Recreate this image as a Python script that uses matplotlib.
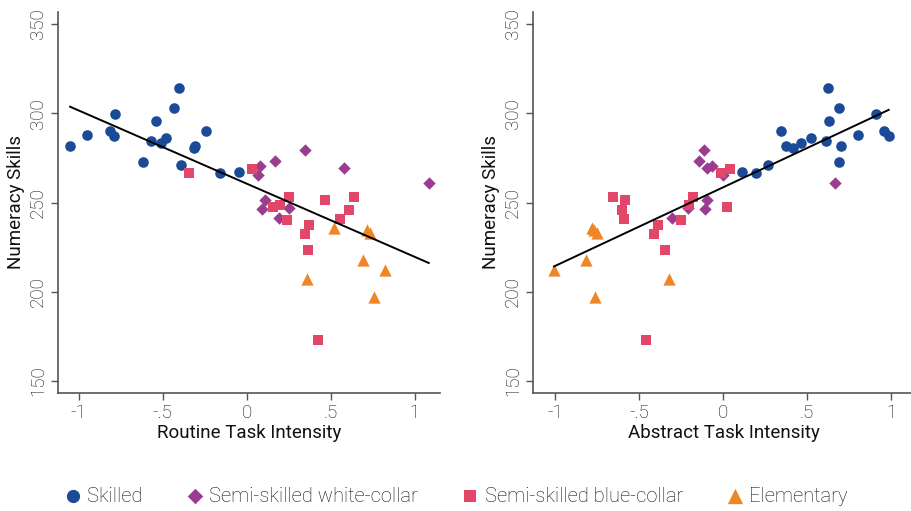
import numpy as np
import matplotlib
matplotlib.use("Agg")
import matplotlib.pyplot as plt

plt.rcParams["font.family"] = ["Roboto", "DejaVu Sans"]
plt.rcParams["font.weight"] = "light"

# ------------------------------
# Occupation groups: numeracy, routine & abstract task intensity
# ------------------------------
skilled_num = [314.4, 302.8, 299.5, 295.7, 290.0, 289.8, 288.0, 287.4, 286.1,
               284.3, 283.1, 281.6, 281.8, 280.3, 272.6, 270.8, 266.5, 267.0]
skilled_rti = [-0.405, -0.431, -0.786, -0.542, -0.814, -0.244, -0.953, -0.790, -0.482,
               -0.572, -0.510, -1.052, -0.308, -0.316, -0.616, -0.390, -0.161, -0.048]
skilled_ati = [0.621, 0.689, 0.911, 0.631, 0.957, 0.345, 0.800, 0.985, 0.520,
               0.610, 0.464, 0.699, 0.373, 0.413, 0.687, 0.264, 0.195, 0.113]

white_num = [279.5, 273.0, 270.5, 269.5, 265.3, 261.0, 251.5, 246.1, 241.5, 246.8]
white_rti = [0.345, 0.170, 0.081, 0.581, 0.065, 1.084, 0.109, 0.091, 0.194, 0.254]
white_ati = [-0.115, -0.146, -0.065, -0.095, 0.000, 0.663, -0.099, -0.109, -0.304, -0.210]

blue_num = [173.2, 223.5, 232.1, 237.2, 240.2, 240.6, 245.7, 247.5, 248.8,
            251.3, 253.1, 253.2, 266.7, 268.9]
blue_rti = [0.427, 0.365, 0.345, 0.371, 0.242, 0.557, 0.611, 0.159, 0.199,
            0.466, 0.249, 0.639, -0.344, 0.033]
blue_ati = [-0.462, -0.349, -0.413, -0.391, -0.250, -0.593, -0.605, 0.022, -0.204,
            -0.587, -0.182, -0.657, -0.014, 0.040]

elem_num = [235.7, 234.4, 233.1, 217.6, 212.0, 206.9, 197.3]
elem_rti = [0.520, 0.714, 0.735, 0.695, 0.824, 0.357, 0.759]
elem_ati = [-0.780, -0.770, -0.750, -0.815, -1.008, -0.325, -0.764]

group_names = ["Skilled", "Semi-skilled white-collar", "Semi-skilled blue-collar", "Elementary"]
group_colors = ["#1b4a96", "#9a3d90", "#e2476a", "#ee8526"]
group_markers = ["o", "D", "s", "^"]
group_sizes = [58, 40, 52, 78]

x_ticks = [-1, -0.5, 0, 0.5, 1]
x_tick_labels = ["-1", "-.5", "0", ".5", "1"]
y_ticks = [150, 200, 250, 300, 350]

groups_num = [skilled_num, white_num, blue_num, elem_num]
groups_rti = [skilled_rti, white_rti, blue_rti, elem_rti]
groups_ati = [skilled_ati, white_ati, blue_ati, elem_ati]

# ------------------------------
# Plot
# ------------------------------
W, H = 911, 511
fig = plt.figure(figsize=(W / 100, H / 100), dpi=100)
ax_l = fig.add_axes([58.3 / W, 1 - 393 / H, 381.7 / W, 381 / H])
ax_r = fig.add_axes([533.3 / W, 1 - 393 / H, 381.7 / W, 381 / H])

spine_col = "#555555"
text_col = "#111111"
fs = 13.5


def draw_panel(ax, xs_by_group, xlabel, xlim):
    handles = []
    for xs, ys, name, c, m, s in zip(xs_by_group, groups_num, group_names,
                                     group_colors, group_markers, group_sizes):
        h = ax.scatter(xs, ys, s=s, c=c, marker=m, linewidths=0, label=name, zorder=3)
        handles.append(h)

    # pooled OLS fit across all groups
    x_all = np.concatenate([np.asarray(v) for v in xs_by_group])
    y_all = np.concatenate([np.asarray(v) for v in groups_num])
    slope, intercept = np.polyfit(x_all, y_all, 1)
    xx = np.array([x_all.min(), x_all.max()])
    ax.plot(xx, intercept + slope * xx, color="black", lw=1.4, zorder=4)

    ax.set_xlim(*xlim)
    ax.set_ylim(143.3, 356.7)
    ax.set_xticks(x_ticks)
    ax.set_xticklabels(x_tick_labels)
    ax.set_yticks(y_ticks)
    ax.set_yticklabels([str(v) for v in y_ticks], rotation=90, va="center")
    for side in ["top", "right"]:
        ax.spines[side].set_visible(False)
    for side in ["left", "bottom"]:
        ax.spines[side].set_color(spine_col)
        ax.spines[side].set_linewidth(1.2)
    ax.tick_params(direction="out", length=5, width=1, color=spine_col,
                   labelcolor=text_col, labelsize=fs, pad=3)
    ax.set_xlabel(xlabel, fontsize=fs, color=text_col, labelpad=1)
    ax.set_ylabel("Numeracy Skills", fontsize=fs, color=text_col, labelpad=3)
    return handles


handles = draw_panel(ax_l, groups_rti, "Routine Task Intensity", (-1.122, 1.151))
draw_panel(ax_r, groups_ati, "Abstract Task Intensity", (-1.131, 1.142))

fig.legend(handles, group_names, loc="center", bbox_to_anchor=(0.5, 1 - 496 / H),
           ncol=4, frameon=False, fontsize=14.5, handletextpad=0.2,
           columnspacing=2.1, handlelength=1.0, labelcolor=text_col,
           markerscale=1.25)

fig.savefig("out.png", dpi=100)
plt.close(fig)
